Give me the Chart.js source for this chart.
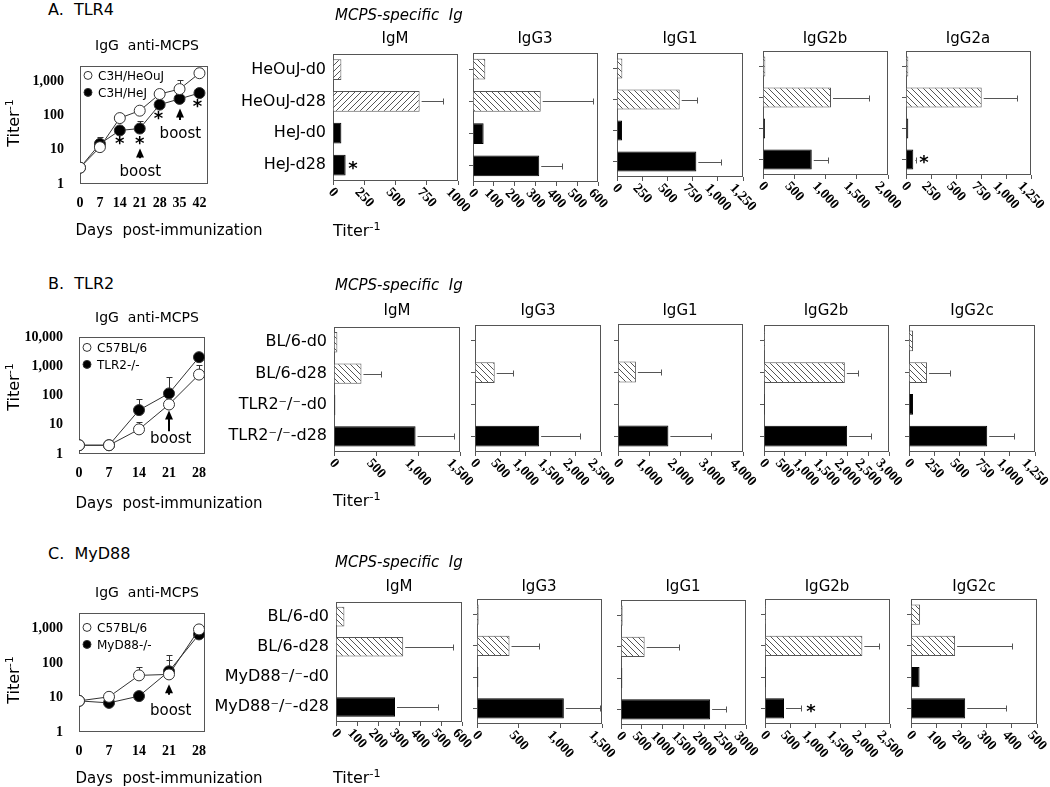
<!DOCTYPE html>
<html>
<head>
<meta charset="utf-8">
<script src="https://cdn.jsdelivr.net/npm/chart.js@4.4.0/dist/chart.umd.min.js"></script>
<style>
  body { margin: 0; background: #fff; }
  #fig { position: relative; width: 1050px; height: 787px; overflow: hidden; font-family: "DejaVu Sans", sans-serif; color: #000; }
  #fig canvas { position: absolute; }
  .t { position: absolute; white-space: pre; transform: translate(-50%, -50%); }
  sup { font-size: 70%; }
</style>
</head>
<body>
<div id="fig"></div>
<script>
// ---------- A. TLR4 ----------
const daysA = [0, 7, 14, 21, 28, 35, 42];
const heOuJ = [3, 12, 85, 140, 430, 600, 1750];
const heOuJErr = [null, 14, 105, 165, null, 1130, 2450];
const heJ = [3, 15, 37, 42, 210, 310, 460];
const heJErr = [null, 24, null, 70, null, null, null];
const xTicksA = ['0', '7', '14', '21', '28', '35', '42'];
const yTicksA = ['1', '10', '100', '1,000'];

const catsA = ['HeOuJ-d0', 'HeOuJ-d28', 'HeJ-d0', 'HeJ-d28'];
const igmA = [67, 693, 67, 101];        const igmAErr = [null, 880, null, null];
const igg3A = [59, 325, 51, 318];       const igg3AErr = [null, 576, null, 425];
const igg1A = [53, 622, 50, 787];       const igg1AErr = [null, 794, null, 1035];
const igg2bA = [37, 1088, 32, 780];     const igg2bAErr = [null, 1698, null, 1035];
const igg2aA = [23, 757, 23, 73];       const igg2aAErr = [null, 1107, null, 100];
const igmATicks = ['0', '250', '500', '750', '1000'];
const igg3ATicks = ['0', '100', '200', '300', '400', '500', '600'];
const igg1ATicks = ['0', '250', '500', '750', '1,000', '1,250'];
const igg2bATicks = ['0', '500', '1,000', '1,500', '2,000'];
const igg2aATicks = ['0', '250', '500', '750', '1,000', '1,250'];

// ---------- B. TLR2 ----------
const daysB = [0, 7, 14, 21, 28];
const bl6B = [2, 2, 7, 50, 530];
const bl6BErr = [null, null, 13, null, 1150];
const tlr2 = [2, 2, 32, 120, 2100];
const tlr2Err = [null, null, 75, 450, 3000];
const xTicksB = ['0', '7', '14', '21', '28'];
const yTicksB = ['1', '10', '100', '1,000', '10,000'];

const catsB = ['BL/6-d0', 'BL/6-d28', 'TLR2\u207B/\u207B-d0', 'TLR2\u207B/\u207B-d28'];
const igmB = [40, 327, 16, 971];        const igmBErr = [null, 557, null, 1433];
const igg3B = [13, 391, 13, 1273];      const igg3BErr = [null, 756, null, 2082];
const igg1B = [21, 573, 0, 1612];       const igg1BErr = [null, 1379, null, 2990];
const igg2bB = [24, 1940, 24, 1995];    const igg2bBErr = [null, 2260, null, 2578];
const igg2cB = [40, 179, 40, 776];      const igg2cBErr = [null, 411, null, 1044];
const igmBTicks = ['0', '500', '1,000', '1,500'];
const igg3BTicks = ['0', '500', '1,000', '1,500', '2,000', '2,500'];
const igg1BTicks = ['0', '1,000', '2,000', '3,000', '4,000'];
const igg2bBTicks = ['0', '500', '1,000', '1,500', '2,000', '2,500', '3,000'];
const igg2cBTicks = ['0', '250', '500', '750', '1,000', '1,250'];

// ---------- C. MyD88 ----------
const daysC = [0, 7, 14, 21, 28];
const bl6C = [8, 10.5, 44, 47, 950];
const bl6CErr = [null, null, 78, 170, null];
const myd88 = [8, 7, 11, 58, 680];
const myd88Err = [null, null, null, 120, null];
const xTicksC = ['0', '7', '14', '21', '28'];
const yTicksC = ['1', '10', '100', '1,000'];

const catsC = ['BL/6-d0', 'BL/6-d28', 'MyD88\u207B/\u207B-d0', 'MyD88\u207B/\u207B-d28'];
const igmC = [40, 320, 3, 281];         const igmCErr = [null, 556, null, 487];
const igg3C = [20, 390, 16, 1042];      const igg3CErr = [null, 748, null, 1472];
const igg1C = [40, 567, 32, 2139];      const igg1CErr = [null, 1380, null, 2514];
const igg2bC = [20, 1947, 20, 380];     const igg2bCErr = [null, 2280, null, 720];
const igg2cC = [36, 175, 34, 215];      const igg2cCErr = [null, 401, null, 377];
const igmCTicks = ['0', '100', '200', '300', '400', '500', '600'];
const igg3CTicks = ['0', '500', '1,000', '1,500'];
const igg1CTicks = ['0', '500', '1000', '1500', '2000', '2500', '3000'];
const igg2bCTicks = ['0', '500', '1,000', '1,500', '2,000', '2,500'];
const igg2cCTicks = ['0', '100', '200', '300', '400', '500'];

// ---------- drawing ----------
Chart.defaults.font.family = '"DejaVu Sans", sans-serif';
Chart.defaults.color = '#000';
const fig = document.getElementById('fig');
const serif = { family: '"Liberation Serif", serif', weight: 'bold', size: 14 };
const num = s => Number(s.replace(/,/g, ''));

function mk(x, y, w, h) {
  const cv = document.createElement('canvas');
  cv.width = w; cv.height = h;
  cv.style.left = x + 'px'; cv.style.top = y + 'px';
  fig.appendChild(cv);
  return cv;
}

function text(x, y, html, css) {
  const d = document.createElement('div');
  d.className = 't';
  d.innerHTML = html;
  d.style.left = x + 'px';
  d.style.top = y + 'px';
  Object.assign(d.style, css || {});
  fig.appendChild(d);
}

function hatch(ctx, dir) {
  const p = document.createElement('canvas');
  p.width = 6; p.height = 6;
  const c = p.getContext('2d');
  c.fillStyle = '#fff'; c.fillRect(0, 0, 6, 6);
  c.strokeStyle = '#555'; c.lineWidth = 1;
  c.beginPath();
  for (let o = -6; o <= 6; o += 6) {
    if (dir > 0) { c.moveTo(o, 6); c.lineTo(o + 6, 0); }
    else { c.moveTo(o, 0); c.lineTo(o + 6, 6); }
  }
  c.stroke();
  return ctx.createPattern(p, 'repeat');
}

const frame = {
  id: 'frame',
  beforeDatasetsDraw(chart) {
    const a = chart.chartArea, c = chart.ctx;
    c.save();
    c.strokeStyle = '#555'; c.lineWidth = 1;
    c.strokeRect(Math.round(a.left) + 0.5, Math.round(a.top) + 0.5, Math.round(a.width) - 1, Math.round(a.height) - 1);
    c.restore();
  }
};

// slanted tick labels, centred under each tick
const slantTicks = {
  id: 'slantTicks',
  afterDraw(chart) {
    const s = chart.scales.x, c = chart.ctx, ang = 47 * Math.PI / 180;
    c.save();
    c.font = 'bold 14px "Liberation Serif", serif';
    c.fillStyle = '#000'; c.textAlign = 'center'; c.textBaseline = 'middle';
    s.ticks.forEach(t => {
      const w = c.measureText(t.label).width;
      c.save();
      c.translate(s.getPixelForValue(t.value), s.top + 9 + w * Math.sin(ang) / 2);
      c.rotate(ang);
      c.fillText(t.label, 0, 0);
      c.restore();
    });
    c.restore();
  }
};

const errBars = {
  id: 'errBars',
  afterDatasetsDraw(chart, args, o) {
    if (!o.values) return;
    const c = chart.ctx, xs = chart.scales.x, meta = chart.getDatasetMeta(0);
    c.save(); c.strokeStyle = '#555'; c.lineWidth = 1;
    meta.data.forEach((bar, i) => {
      const e = o.values[i];
      if (e == null) return;
      const x2 = Math.round(xs.getPixelForValue(e)) + 0.5, y = Math.round(bar.y) + 0.5;
      c.beginPath();
      c.moveTo(bar.x + 2, y); c.lineTo(x2, y);
      c.moveTo(x2, y - 3); c.lineTo(x2, y + 3);
      c.stroke();
    });
    c.restore();
  }
};

const lineErr = {
  id: 'lineErr',
  beforeDatasetsDraw(chart) {
    const c = chart.ctx, ys = chart.scales.y;
    c.save(); c.strokeStyle = '#333'; c.lineWidth = 1;
    chart.data.datasets.forEach((ds, di) => {
      const meta = chart.getDatasetMeta(di);
      (ds.err || []).forEach((e, i) => {
        if (e == null) return;
        const p = meta.data[i];
        const x = Math.round(p.x) + 0.5, y2 = Math.round(ys.getPixelForValue(e)) + 0.5;
        c.beginPath();
        c.moveTo(x, p.y); c.lineTo(x, y2);
        c.moveTo(x - 3, y2); c.lineTo(x + 3, y2);
        c.stroke();
      });
    });
    c.restore();
  }
};

// legend inside the plot box, top-left, one row per dataset
const boxLegend = {
  id: 'boxLegend',
  afterDraw(chart, args, o) {
    if (o.top == null) return;
    const c = chart.ctx, a = chart.chartArea;
    c.save();
    c.font = '12px "DejaVu Sans", sans-serif';
    c.textAlign = 'left'; c.textBaseline = 'middle';
    chart.data.datasets.forEach((ds, i) => {
      const y = a.top + o.top + i * 17, x = a.left + 8;
      c.beginPath(); c.arc(x, y, 4, 0, 2 * Math.PI);
      c.fillStyle = ds.pointBackgroundColor; c.fill();
      c.strokeStyle = '#333'; c.lineWidth = 1; c.stroke();
      c.fillStyle = '#000';
      c.fillText(ds.label, x + 10, y + 1);
    });
    c.restore();
  }
};

const notes = {
  id: 'notes',
  afterDatasetsDraw(chart, args, o) {
    const c = chart.ctx, xs = chart.scales.x, ys = chart.scales.y;
    c.save(); c.fillStyle = '#000'; c.strokeStyle = '#000';
    (o.arrows || []).forEach(a => {
      const x = Math.round(xs.getPixelForValue(a[0])), y1 = ys.getPixelForValue(a[1]), y2 = ys.getPixelForValue(a[2]);
      c.lineWidth = 2;
      c.beginPath(); c.moveTo(x, y1); c.lineTo(x, y2 + 6); c.stroke();
      c.beginPath(); c.moveTo(x, y2); c.lineTo(x - 4, y2 + 9); c.lineTo(x + 4, y2 + 9); c.closePath(); c.fill();
    });
    c.font = '15px "DejaVu Sans", sans-serif';
    c.textAlign = 'center'; c.textBaseline = 'middle';
    (o.texts || []).forEach(t => c.fillText(t[2], xs.getPixelForValue(t[0]), ys.getPixelForValue(t[1])));
    c.font = 'bold 18px "DejaVu Sans", sans-serif';
    (o.stars || []).forEach(s => c.fillText('*', xs.getPixelForValue(s[0]), ys.getPixelForValue(s[1]) + 4));
    c.restore();
  }
};

function barChart(box, cats, vals, errs, ticks, opt) {
  const [L, T, R, B] = box;
  const padL = opt.labels ? L - 200 : 12, padT = 16, padR = 34, padB = 62;
  const cv = mk(L - padL, T - padT, R - L + padL + padR, B - T + padT + padB);
  const ctx = cv.getContext('2d');
  const pat = hatch(ctx, opt.dir || -1);
  const tv = ticks.map(num);
  new Chart(cv, {
    type: 'bar',
    data: {
      labels: cats,
      datasets: [{
        data: vals,
        backgroundColor: vals.map((v, i) => i < 2 ? pat : '#000'),
        borderColor: vals.map((v, i) => i < 2 ? '#555' : '#000'),
        borderWidth: 1,
        barPercentage: 0.65,
        categoryPercentage: 1
      }]
    },
    options: {
      indexAxis: 'y',
      responsive: false,
      animation: false,
      layout: { padding: { left: 0, top: padT, right: padR, bottom: 0 } },
      plugins: {
        legend: { display: false },
        tooltip: { enabled: false },
        errBars: { values: errs },
        notes: { stars: opt.stars || [] }
      },
      scales: {
        x: {
          type: 'linear', min: 0, max: tv[tv.length - 1],
          afterBuildTicks: s => { s.ticks = tv.map(v => ({ value: v })); },
          ticks: { display: false, autoSkip: false, callback: (v, i) => ticks[i] },
          grid: { drawOnChartArea: false, tickLength: 4, color: '#555' },
          border: { display: false },
          afterFit: s => { s.height = padB; }
        },
        y: {
          ticks: { display: !!opt.labels, padding: 7, font: { size: 16 }, color: '#000' },
          grid: { offset: false, drawOnChartArea: false, drawTicks: !opt.labels, tickLength: 4, color: '#555' },
          border: { display: false },
          afterFit: s => { s.width = padL; }
        }
      }
    },
    plugins: [frame, errBars, slantTicks, notes]
  });
}

function lineChart(box, xMax, yMax, days, series, xTicks, yTicks, note, legTop) {
  const [L, T, R, B] = box;
  const padL = 72, padT = 10, padR = 12, padB = 30;
  const cv = mk(L - padL, T - padT, R - L + padL + padR, B - T + padT + padB);
  const xv = xTicks.map(num), yv = yTicks.map(num);
  new Chart(cv, {
    type: 'line',
    data: {
      datasets: series.map(s => ({
        label: s.label,
        data: days.map((d, i) => ({ x: d, y: s.data[i] })),
        err: s.err,
        order: s.open ? 0 : 1,
        borderColor: '#333', borderWidth: 1,
        backgroundColor: s.open ? '#fff' : '#000',
        pointRadius: 5.5, pointBorderWidth: 1, pointBorderColor: '#333',
        pointBackgroundColor: s.open ? '#fff' : '#000',
        tension: 0
      }))
    },
    options: {
      responsive: false,
      animation: false,
      layout: { padding: { left: 0, top: padT, right: padR, bottom: 0 } },
      plugins: {
        tooltip: { enabled: false },
        legend: { display: false },
        boxLegend: { top: legTop },
        notes: note
      },
      scales: {
        x: {
          type: 'linear', min: 0, max: xMax,
          afterBuildTicks: s => { s.ticks = xv.map(v => ({ value: v })); },
          ticks: { callback: (v, i) => xTicks[i], font: serif, color: '#000', padding: 3, autoSkip: false, maxRotation: 0 },
          grid: { display: false }, border: { display: false },
          afterFit: s => { s.height = padB; }
        },
        y: {
          type: 'logarithmic', min: 1, max: yMax,
          afterBuildTicks: s => { s.ticks = yv.map(v => ({ value: v })); },
          ticks: { callback: (v, i) => yTicks[i], font: serif, color: '#000', padding: 8, autoSkip: false },
          grid: { display: false }, border: { display: false },
          afterFit: s => { s.width = padL; }
        }
      }
    },
    plugins: [frame, lineErr, notes, boxLegend]
  });
}

// ----- row A -----
lineChart([80, 60, 208, 184], 45, 2770, daysA, [
  { label: 'C3H/HeOuJ', data: heOuJ, err: heOuJErr, open: true },
  { label: 'C3H/HeJ', data: heJ, err: heJErr, open: false }
], xTicksA, yTicksA, {
  arrows: [[21, 5.7, 11], [35, 75, 163]],
  texts: [[21.2, 2.2, 'boost'], [35.3, 29, 'boost']],
  stars: [[14, 19.5], [21, 19.5], [27.6, 104], [41.3, 225]]
}, 9);
barChart([333, 53, 458, 181], catsA, igmA, igmAErr, igmATicks, { labels: true, dir: 1, stars: [[160, 3]] });
barChart([473, 53, 598, 182], catsA, igg3A, igg3AErr, igg3ATicks, {});
barChart([617, 53, 743, 177], catsA, igg1A, igg1AErr, igg1ATicks, {});
barChart([763, 51, 888, 175], catsA, igg2bA, igg2bAErr, igg2bATicks, {});
barChart([906, 51, 1031, 175], catsA, igg2aA, igg2aAErr, igg2aATicks, { stars: [[180, 3]] });

// ----- row B -----
lineChart([79, 331, 205, 454], 29.4, 10000, daysB, [
  { label: 'C57BL/6', data: bl6B, err: bl6BErr, open: true },
  { label: 'TLR2-/-', data: tlr2, err: tlr2Err, open: false }
], xTicksB, yTicksB, {
  arrows: [[21, 6, 31]],
  texts: [[21.4, 3.3, 'boost']]
}, 10);
barChart([334, 326, 460, 452], catsB, igmB, igmBErr, igmBTicks, { labels: true });
barChart([475, 325, 601, 452], catsB, igg3B, igg3BErr, igg3BTicks, {});
barChart([618, 324, 743, 452], catsB, igg1B, igg1BErr, igg1BTicks, {});
barChart([764, 325, 889, 452], catsB, igg2bB, igg2bBErr, igg2bBTicks, {});
barChart([909, 325, 1035, 452], catsB, igg2cB, igg2cBErr, igg2cBTicks, {});

// ----- row C -----
lineChart([79, 607, 205, 732], 29.4, 2770, daysC, [
  { label: 'C57BL/6', data: bl6C, err: bl6CErr, open: true },
  { label: 'MyD88-/-', data: myd88, err: myd88Err, open: false }
], xTicksC, yTicksC, {
  arrows: [[21, 12, 24.5]],
  texts: [[21.4, 4.1, 'boost']]
}, 14);
barChart([336, 601, 462, 722], catsC, igmC, igmCErr, igmCTicks, { labels: true });
barChart([477, 599, 602, 724], catsC, igg3C, igg3CErr, igg3CTicks, {});
barChart([621, 600, 746, 725], catsC, igg1C, igg1CErr, igg1CTicks, {});
barChart([765, 599, 890, 724], catsC, igg2bC, igg2bCErr, igg2bCTicks, { stars: [[920, 3]] });
barChart([911, 599, 1037, 724], catsC, igg2cC, igg2cCErr, igg2cCTicks, {});

// ----- text -----
const rows = [
  { tag: 'A.  TLR4', y0: 9, title: 45, titer: 123, days: 230, ms: 15, iso: ['IgM', 'IgG3', 'IgG1', 'IgG2b', 'IgG2a'], isoY: 38, xs: [395, 535, 680, 825, 968], bt: 230 },
  { tag: 'B.  TLR2', y0: 283, title: 317, titer: 387, days: 503, ms: 285, iso: ['IgM', 'IgG3', 'IgG1', 'IgG2b', 'IgG2c'], isoY: 310, xs: [397, 538, 680, 826, 972], bt: 500 },
  { tag: 'C.  MyD88', y0: 553, title: 592, titer: 680, days: 778, ms: 562, iso: ['IgM', 'IgG3', 'IgG1', 'IgG2b', 'IgG2c'], isoY: 586, xs: [399, 539, 683, 827, 974], bt: 777 }
];
rows.forEach(r => {
  text(48, r.y0, r.tag, { transform: 'translate(0,-50%)', fontSize: '16px' });
  text(147, r.title, 'IgG  anti-MCPS', { fontSize: '14px' });
  text(13, r.titer, 'Titer<sup>-1</sup>', { fontSize: '16px', transform: 'translate(-50%,-50%) rotate(-90deg)' });
  text(169, r.days, 'Days  post-immunization', { fontSize: '15px' });
  text(335, r.ms, 'MCPS-specific  Ig', { fontSize: '15px', fontStyle: 'italic', transform: 'translate(0,-50%)' });
  r.iso.forEach((s, i) => text(r.xs[i], r.isoY, s, { fontSize: '15px' }));
  text(333, r.bt, 'Titer<sup>-1</sup>', { fontSize: '16px', transform: 'translate(0,-50%)' });
});
</script>
</body>
</html>
